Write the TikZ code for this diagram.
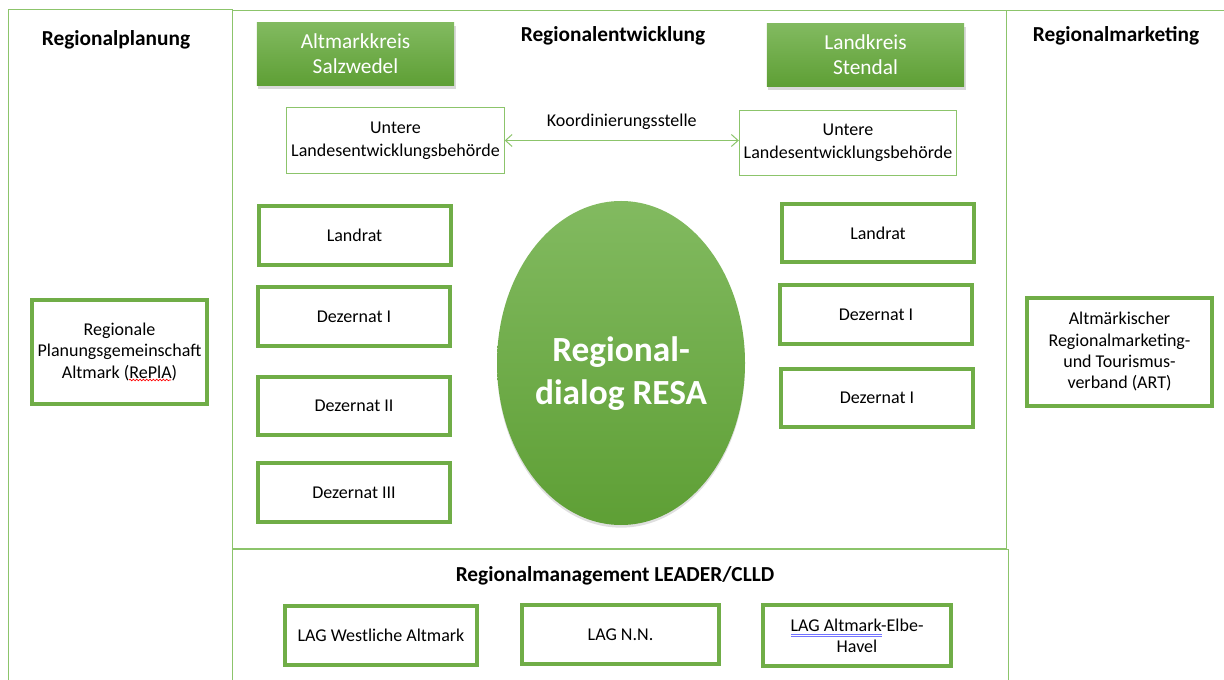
\documentclass[tikz,border=0pt]{standalone}
\usepackage{fontspec}
\setmainfont{Carlito}
\usetikzlibrary{arrows.meta,shadows,shapes.geometric,decorations.pathmorphing}
\definecolor{rahmen}{HTML}{8CC46B}
\definecolor{gruen}{HTML}{70AD47}
\definecolor{gruenhell}{HTML}{82BA60}
\definecolor{gruendunkel}{HTML}{5E9F35}
\tikzset{
  rahmenlinie/.style={rahmen, line width=0.75pt},
  titel/.style={font=\bfseries\fontsize{16}{19}\selectfont},
  amt/.style={draw=gruen, line width=3pt, minimum width=144pt, minimum height=44pt,
    align=center, font=\fontsize{13.5}{16}\selectfont},
  behoerde/.style={draw=rahmen, line width=0.75pt, minimum width=162pt, minimum height=49pt,
    align=center, font=\fontsize{13.5}{17}\selectfont},
  kreis/.style={top color=gruenhell, bottom color=gruendunkel, minimum width=148pt,
    minimum height=47pt, align=center, text=white, font=\fontsize{16}{19}\selectfont,
    drop shadow={shadow xshift=1pt, shadow yshift=-2.5pt, opacity=0.3}},
  dialog/.style={ellipse, top color=gruenhell, bottom color=gruendunkel, inner sep=0pt,
    minimum width=186pt, minimum height=243pt,
    drop shadow={shadow xshift=0pt, shadow yshift=-2pt, opacity=0.25}},
  dialogtext/.style={align=center, text=white, font=\bfseries\fontsize{26.5}{32}\selectfont},
  koord/.style={rahmen, line width=0.75pt, {Straight Barb[length=5pt,width=9pt]}-{Straight Barb[length=5pt,width=9pt]}},
}
\begin{document}
\begin{tikzpicture}[x=0.75pt,y=-0.75pt]
\useasboundingbox (0,0) rectangle (1224,680);

% Bereiche
\draw[rahmenlinie] (8,680) -- (8,10) -- (232,10) -- (232,680);
\draw[rahmenlinie] (232,11) -- (1224,11);
\draw[rahmenlinie] (1006,11) -- (1006,548) -- (232,548);
\draw[rahmenlinie] (232,549) -- (1008,549) -- (1008,680);

\node[titel] (tplanung) at (116,40) {Regionalplanung};
\node[titel] (tentwicklung) at (613,36) {Regionalentwicklung};
\node[titel] (tmarketing) at (1116,36) {Regionalmarketing};
\node[titel] (tleader) at (615,576) {Regionalmanagement LEADER/CLLD};

% Landkreise
\node[kreis] (saw) at (355.5,54) {Altmarkkreis\\Salzwedel};
\node[kreis] (sdl) at (865.5,55) {Landkreis\\Stendal};

\node[behoerde] (uleb1) at (395.5,140.5) {Untere\\Landesentwicklungsbehörde};
\node[behoerde] (uleb2) at (848,143) {Untere\\Landesentwicklungsbehörde};
\draw[koord] (uleb1.east) -- (uleb1.east -| uleb2.west)
  node[midway, yshift=14pt, text=black, font=\fontsize{13.5}{16}\selectfont] (koordstelle) {Koordinierungsstelle};

% Regionaldialog
\node[dialog] (resa) at (621,363) {};
\node[dialogtext] (resatext) at ([yshift=-8pt]resa.center) {Regional-\\dialog RESA};

\node[amt] (lr1) at (354.5,235.5) {Landrat};
\node[amt] (dez1a) at (354,316.5) {Dezernat I};
\node[amt] (dez2a) at (354,406) {Dezernat II};
\node[amt] (dez3a) at (354,492.5) {Dezernat III};

\node[amt] (lr2) at (878,233) {Landrat};
\node[amt] (dez1b) at (876,314.5) {Dezernat I};
\node[amt] (dez1c) at (877,398) {Dezernat I};

\node[amt, minimum width=131pt, minimum height=78pt] (repla) at (119.5,352)
  {Regionale\\Planungsgemeinschaft\\Altmark (RePlA)};
\node[amt, minimum width=139pt, minimum height=81pt] (art) at (1119.5,352)
  {Altmärkischer\\Regionalmarketing-\\und Tourismus-\\verband (ART)};

% LEADER
\node[amt] (lagwa) at (381,635.5) {LAG Westliche Altmark};
\node[amt, minimum width=148pt] (lagnn) at (620.5,634.5) {LAG N.N.};
\node[amt, minimum width=141pt, minimum height=46pt] (lagaeh) at (857,635.5) {LAG Altmark-Elbe-\\Havel};

% Rechtschreibmarken
\draw[red, line width=0.5pt, decorate, decoration={snake, amplitude=0.6pt, segment length=2.5pt}]
  (129,380) -- (171,380);
\draw[blue!55, line width=0.5pt] (791,634) -- (882,634) (791,636.5) -- (882,636.5);
\end{tikzpicture}
\end{document}
